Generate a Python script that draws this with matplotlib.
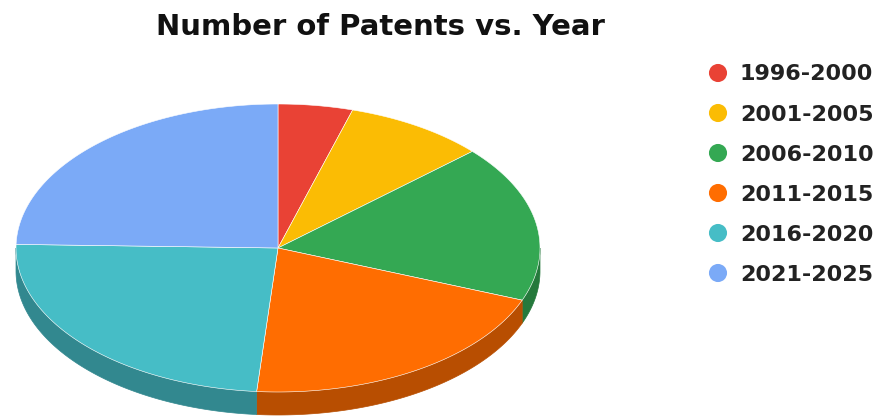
import numpy as np
import matplotlib
matplotlib.use("Agg")
import matplotlib.pyplot as plt
from matplotlib.patches import Polygon
from matplotlib.colors import to_rgb

periods = ["1996-2000", "2001-2005", "2006-2010", "2011-2015", "2016-2020", "2021-2025"]
patents = [46, 87, 176, 204, 241, 246]
colors = ["#e94235", "#fbbc04", "#34a853", "#ff6d01", "#46bdc6", "#7baaf7"]

W, H = 878, 419
fig = plt.figure(figsize=(W / 100, H / 100), dpi=100)
ax = fig.add_axes([0, 0, 1, 1])
ax.set_xlim(0, W)
ax.set_ylim(H, 0)
ax.axis("off")

# tilted pie geometry (pixel units)
cx, cy = 278, 248
rx, ry = 262, 144
depth = 23


def rim(t):
    # t: angle in degrees, clockwise from 12 o'clock
    r = np.radians(t)
    return cx + rx * np.sin(r), cy - ry * np.cos(r)


def shade(c, k=0.72):
    return tuple(v * k for v in to_rgb(c))


vals = np.array(patents, dtype=float)
edges = np.concatenate([[0], np.cumsum(vals) / vals.sum() * 360])

# side walls of the front half
for i, c in enumerate(colors):
    a0, a1 = max(edges[i], 90), min(edges[i + 1], 270)
    if a1 <= a0:
        continue
    t = np.linspace(a0, a1, 120)
    xs, ys = rim(t)
    pts = np.column_stack([np.r_[xs, xs[::-1]], np.r_[ys, ys[::-1] + depth]])
    ax.add_patch(Polygon(pts, closed=True, fc=shade(c), ec=shade(c), lw=0.5))

# top faces
for i, c in enumerate(colors):
    t = np.linspace(edges[i], edges[i + 1], 200)
    xs, ys = rim(t)
    pts = np.column_stack([np.r_[cx, xs], np.r_[cy, ys]])
    ax.add_patch(Polygon(pts, closed=True, fc=c, ec="white", lw=0.4))

ax.text(380, 35, "Number of Patents vs. Year", ha="center", va="baseline",
        fontsize=21, fontweight="bold", family="DejaVu Sans", color="#111111")

# legend
for i, (lab, c) in enumerate(zip(periods, colors)):
    y = 73 + i * 40
    ax.scatter([718], [y], s=170, color=c, edgecolors="none")
    ax.text(740, y + 7.5, lab, ha="left", va="baseline", fontsize=16,
            fontweight="bold", family="DejaVu Sans", color="#222222")

fig.savefig("out.png", dpi=100)
